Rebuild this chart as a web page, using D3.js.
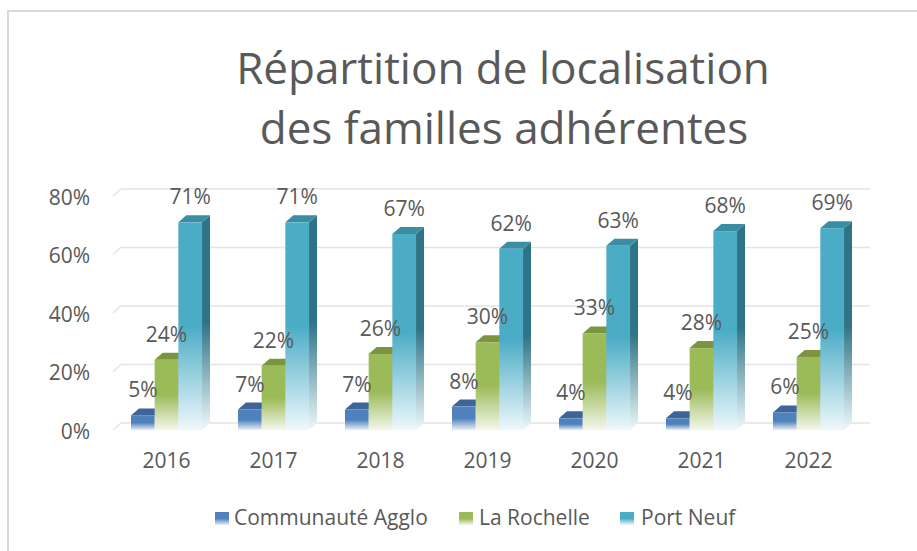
<!DOCTYPE html>
<html>
<head>
<meta charset="utf-8">
<script src="https://cdn.jsdelivr.net/npm/d3@7"></script>
<style>
  body { margin: 0; background: #ffffff; }
  svg { display: block; font-family: "Open Sans", sans-serif; }
</style>
</head>
<body>
<div class="graphique"></div>
<script>
// donnees
var annees = ["2016", "2017", "2018", "2019", "2020", "2021", "2022"];
var series = ["Communauté Agglo", "La Rochelle", "Port Neuf"];
var agglo = [0.05, 0.07, 0.07, 0.08, 0.04, 0.04, 0.06];
var rochelle = [0.24, 0.22, 0.26, 0.30, 0.33, 0.28, 0.25];
var portNeuf = [0.71, 0.71, 0.67, 0.62, 0.63, 0.68, 0.69];
var graduations = [0, 0.2, 0.4, 0.6, 0.8];

var valeurs = [agglo, rochelle, portNeuf];
var couleurs = [
  { face: "#4f81bd", cote: "#385d8a", haut: "#3d6599", bas: "#e9f0f8" },
  { face: "#9bbb59", cote: "#71893f", haut: "#7a9440", bas: "#f3f7ea" },
  { face: "#4bacc6", cote: "#2f7486", haut: "#3a8ea4", bas: "#eef8fb" }
];

var texte = "#595959";
var dx = 8, dy = 7;

var svg = d3.select(".graphique")
  .append("svg")
  .attr("width", 917)
  .attr("height", 551);

// bordure
svg.append("path")
  .attr("d", "M8,551 L8,11 L917,11")
  .attr("fill", "none")
  .attr("stroke", "#d9d9d9")
  .attr("stroke-width", 2);

var defs = svg.append("defs");
couleurs.forEach(function (c, i) {
  var g = defs.append("linearGradient")
    .attr("id", "face" + i)
    .attr("x1", 0).attr("y1", 0).attr("x2", 0).attr("y2", 1);
  g.append("stop").attr("offset", 0).attr("stop-color", c.face);
  g.append("stop").attr("offset", 0.5).attr("stop-color", c.face);
  g.append("stop").attr("offset", 1).attr("stop-color", c.bas);

  var s = defs.append("linearGradient")
    .attr("id", "cote" + i)
    .attr("x1", 0).attr("y1", 0).attr("x2", 0).attr("y2", 1);
  s.append("stop").attr("offset", 0).attr("stop-color", c.cote);
  s.append("stop").attr("offset", 0.5).attr("stop-color", c.cote);
  s.append("stop").attr("offset", 1).attr("stop-color", c.bas);
});

// titre
var titre = svg.append("text")
  .attr("text-anchor", "middle")
  .attr("fill", texte)
  .attr("font-size", 44);
titre.append("tspan").attr("x", 503).attr("y", 84).text("Répartition de localisation");
titre.append("tspan").attr("x", 504).attr("y", 144).text("des familles adhérentes");

const xScale = d3.scaleBand()
  .domain(annees)
  .range([113, 862])
  .paddingInner(0.336)
  .paddingOuter(0.168);

const xSerie = d3.scaleBand()
  .domain(series)
  .range([0, xScale.bandwidth()]);

const yScale = d3.scaleLinear()
  .domain([0, 0.8])
  .range([430, 196]);

// grille (mur du fond + mur de gauche)
var x0 = 113, x1 = 862;
graduations.forEach(function (v) {
  var y = yScale(v);
  svg.append("path")
    .attr("d", "M" + x0 + "," + y + " L" + (x0 + dx) + "," + (y - dy) + " L" + (x1 + dx) + "," + (y - dy))
    .attr("fill", "none")
    .attr("stroke", "#e4e4e4")
    .attr("stroke-width", 1.5);
});

// axe y
const yAxis = d3.axisLeft(yScale).tickValues(graduations).tickFormat(d3.format(".0%")).tickSize(0).tickPadding(0);
svg.append("g")
  .attr("transform", "translate(90, 0)")
  .call(yAxis)
  .call(function (g) {
    g.select(".domain").remove();
    g.selectAll("text")
      .attr("fill", texte)
      .attr("font-size", 21)
      .attr("font-family", "Open Sans")
      .attr("dy", 8);
  });

// axe x
const xAxis = d3.axisBottom(xScale).tickSize(0).tickPadding(0);
svg.append("g")
  .attr("transform", "translate(0, 468)")
  .call(xAxis)
  .call(function (g) {
    g.select(".domain").remove();
    g.selectAll("text")
      .attr("fill", texte)
      .attr("font-size", 21)
      .attr("font-family", "Open Sans")
      .attr("dy", 0)
      .attr("y", 0);
  });

// barres 3d
var y0 = yScale(0);
annees.forEach(function (annee, j) {
  series.forEach(function (serie, i) {
    var v = valeurs[i][j];
    var c = couleurs[i];
    var x = xScale(annee) + xSerie(serie);
    var w = xSerie.bandwidth();
    var y = yScale(v);
    var barre = svg.append("g").attr("class", "barre");

    barre.append("path")
      .attr("d", "M" + (x + w) + "," + y + " L" + (x + w + dx) + "," + (y - dy) +
        " L" + (x + w + dx) + "," + (y0 - dy) + " L" + (x + w) + "," + y0 + "Z")
      .attr("fill", "url(#cote" + i + ")");

    barre.append("path")
      .attr("d", "M" + x + "," + y + " L" + (x + dx) + "," + (y - dy) +
        " L" + (x + w + dx) + "," + (y - dy) + " L" + (x + w) + "," + y + "Z")
      .attr("fill", c.haut);

    barre.append("rect")
      .attr("x", x)
      .attr("y", y)
      .attr("width", w)
      .attr("height", y0 - y)
      .attr("fill", "url(#face" + i + ")");
  });
});

// etiquettes
annees.forEach(function (annee, j) {
  series.forEach(function (serie, i) {
    var v = valeurs[i][j];
    svg.append("text")
      .attr("x", xScale(annee) + xSerie(serie) + xSerie.bandwidth() / 2)
      .attr("y", yScale(v) - 18)
      .attr("text-anchor", "middle")
      .attr("fill", texte)
      .attr("font-size", 21)
      .text(d3.format(".0%")(v));
  });
});

// legende
var leg = [
  { carre: 215, texte: 234 },
  { carre: 459, texte: 479 },
  { carre: 620, texte: 641 }
];
series.forEach(function (serie, i) {
  svg.append("rect")
    .attr("x", leg[i].carre)
    .attr("y", 512)
    .attr("width", 14)
    .attr("height", 13)
    .attr("fill", "url(#face" + i + ")");
  svg.append("text")
    .attr("x", leg[i].texte)
    .attr("y", 525)
    .attr("fill", texte)
    .attr("font-size", 21)
    .text(serie);
});
</script>
</body>
</html>
